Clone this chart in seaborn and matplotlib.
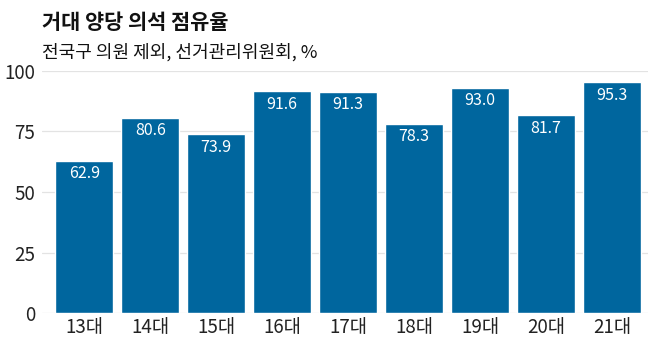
import matplotlib
matplotlib.use("Agg")
import matplotlib.pyplot as plt
import seaborn as sns
import pandas as pd

# 데이터
terms = ["13대", "14대", "15대", "16대", "17대", "18대", "19대", "20대", "21대"]
shares = [62.9, 80.6, 73.9, 91.6, 91.3, 78.3, 93.0, 81.7, 95.3]
yticks = [0, 25, 50, 75, 100]

title = "거대 양당 의석 점유율"
subtitle = "전국구 의원 제외, 선거관리위원회, %"

sns.set_style("white")
plt.rcParams["font.family"] = ["Noto Sans CJK KR", "DejaVu Sans"]

df = pd.DataFrame({"term": terms, "share": shares})

fig = plt.figure(figsize=(6.58, 3.53), dpi=100)
ax = fig.add_axes([0.064, 0.113, 0.921, 0.686])

sns.barplot(data=df, x="term", y="share", color="#00669e", saturation=1,
            width=0.88, ax=ax, zorder=2)

# 막대 안쪽 값 라벨
for i, v in enumerate(shares):
    ax.text(i, v - 1.8, f"{v:.1f}", ha="center", va="top",
            color="white", fontsize=11.5)

ax.set_ylim(0, 100)
ax.set_xlim(-0.64, 8.55)
ax.set_yticks(yticks)
ax.yaxis.grid(True, color="#e3e3e3", linewidth=0.9, zorder=0)
ax.set_axisbelow(True)
for s in ax.spines.values():
    s.set_visible(False)
ax.tick_params(axis="both", length=0, labelsize=13.5, labelcolor="#222222")
ax.tick_params(axis="x", pad=3)
ax.tick_params(axis="y", pad=5)
ax.set_xlabel("")
ax.set_ylabel("")

fig.text(0.064, 0.935, title, fontsize=15, fontweight="bold", color="#111111",
         ha="left", va="center")
fig.text(0.064, 0.852, subtitle, fontsize=13, color="#111111",
         ha="left", va="center")

fig.savefig("out.png", dpi=100)
